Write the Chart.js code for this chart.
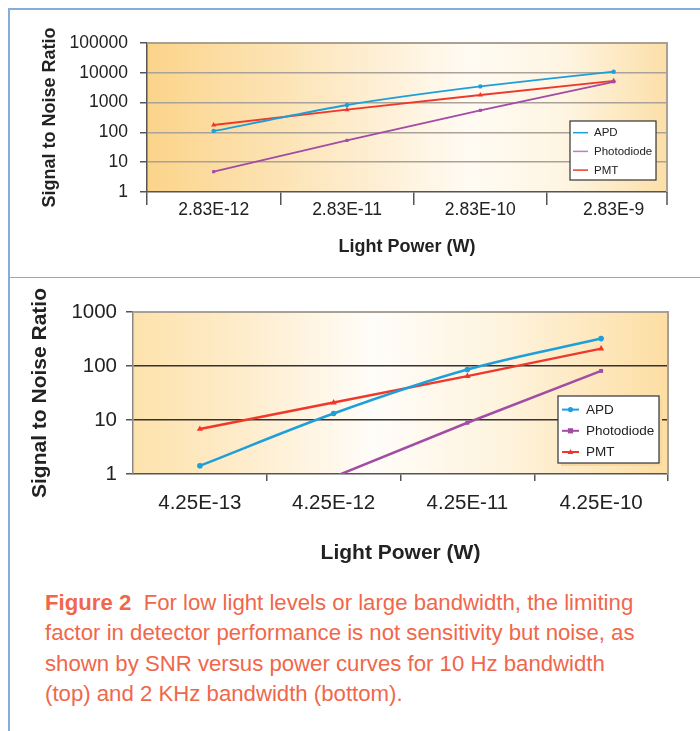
<!DOCTYPE html>
<html><head><meta charset="utf-8">
<script src="https://cdn.jsdelivr.net/npm/chart.js@4.4.0/dist/chart.umd.min.js"></script>
<style>
html,body{margin:0;padding:0;background:#fff;}
#page{position:relative;width:700px;height:731px;overflow:hidden;font-family:"Liberation Sans",Arial,sans-serif;}
.bl{position:absolute;background:#86acdd;}
canvas{position:absolute;left:0;}
#cap{position:absolute;left:45px;top:588px;font-size:22.2px;line-height:30.3px;color:#f0674b;white-space:nowrap;}
</style></head><body>
<div id="page">
<div class="bl" style="left:8px;top:8px;width:1.5px;height:723px"></div>
<div class="bl" style="left:8px;top:8px;width:692px;height:1.5px"></div>
<div class="bl" style="left:8px;top:276.5px;width:692px;height:1.5px"></div>
<canvas id="c1" width="700" height="276" style="top:0"></canvas>
<canvas id="c2" width="700" height="300" style="top:277px"></canvas>
<div id="cap"><b>Figure 2</b>&nbsp; For low light levels or large bandwidth, the limiting<br>factor in detector performance is not sensitivity but noise, as<br>shown by SNR versus power curves for 10 Hz bandwidth<br>(top) and 2 KHz bandwidth (bottom).</div>
</div>
<script>
// ---- data ----
const seriesNames = ['APD', 'Photodiode', 'PMT'];

const xLabelsTop = ['2.83E-12', '2.83E-11', '2.83E-10', '2.83E-9'];
const apdTop = [111, 830, 3500, 10900];
const photodiodeTop = [4.8, 54, 550, 5000];
const pmtTop = [177, 577, 1800, 5400];
const yTicksTop = [1, 10, 100, 1000, 10000, 100000];

const xLabelsBottom = ['4.25E-13', '4.25E-12', '4.25E-11', '4.25E-10'];
const apdBottom = [1.42, 13.2, 86, 322];
const photodiodeBottom = [0.09, 0.88, 8.9, 81];
const pmtBottom = [6.8, 21, 65, 210];
const yTicksBottom = [1, 10, 100, 1000];

// ---- styling ----
const FONT = '"Liberation Sans", Arial, sans-serif';
Chart.defaults.font.family = FONT;
Chart.defaults.color = '#222';
const COLORS = {APD: '#1f9fda', Photodiode: '#a24ca6', PMT: '#f0382a'};
const STYLES = {APD: 'circle', Photodiode: 'rect', PMT: 'triangle'};

function drawMarker(ctx, style, x, y, r, color) {
  ctx.fillStyle = color;
  ctx.beginPath();
  if (style === 'circle') { ctx.arc(x, y, r, 0, Math.PI * 2); }
  else if (style === 'rect') { ctx.rect(x - r, y - r, 2 * r, 2 * r); }
  else { ctx.moveTo(x, y - r * 1.2); ctx.lineTo(x + r * 1.1, y + r * 0.8); ctx.lineTo(x - r * 1.1, y + r * 0.8); ctx.closePath(); }
  ctx.fill();
}

function makePlugin(o) {
  return {
    id: 'deco',
    beforeDraw(chart) {
      const {ctx, chartArea: a} = chart;
      const g = ctx.createLinearGradient(a.left, 0, a.right, 0);
      o.stops.forEach(s => g.addColorStop(s[0], s[1]));
      ctx.save();
      ctx.fillStyle = g;
      ctx.fillRect(a.left, a.top, a.right - a.left, a.bottom - a.top);
      ctx.restore();
    },
    afterDraw(chart) {
      const {ctx, chartArea: a} = chart;
      ctx.save();
      ctx.strokeStyle = o.frame; ctx.lineWidth = 2;
      ctx.beginPath();
      ctx.moveTo(a.left, a.top); ctx.lineTo(a.right, a.top); ctx.lineTo(a.right, a.bottom);
      ctx.stroke();
      if (o.rightTick) {
        ctx.strokeStyle = '#555'; ctx.lineWidth = 1.5;
        ctx.beginPath(); ctx.moveTo(a.right, a.bottom); ctx.lineTo(a.right, a.bottom + o.rightTick); ctx.stroke();
      }
      const L = o.legend;
      const bx = a.right - L.dr, by = a.bottom - L.db;
      if (L.shadow) { ctx.fillStyle = L.shadow; ctx.fillRect(bx + 3, by + 3, L.w, L.h); }
      ctx.fillStyle = '#fff'; ctx.fillRect(bx, by, L.w, L.h);
      ctx.strokeStyle = '#333'; ctx.lineWidth = 1.2; ctx.strokeRect(bx, by, L.w, L.h);
      ctx.font = L.font + 'px ' + FONT;
      ctx.textBaseline = 'middle'; ctx.textAlign = 'left';
      chart.data.datasets.forEach((ds, i) => {
        const y = by + L.row0 + i * L.rowH;
        ctx.strokeStyle = L.colors ? L.colors[i] : ds.borderColor; ctx.lineWidth = L.lw;
        ctx.beginPath(); ctx.moveTo(bx + L.x0, y); ctx.lineTo(bx + L.x1, y); ctx.stroke();
        if (L.markers) drawMarker(ctx, ds.pointStyle, bx + (L.x0 + L.x1) / 2, y, L.mr, ds.borderColor);
        ctx.fillStyle = '#222';
        ctx.fillText(ds.label, bx + L.tx, y + 0.5);
      });
      ctx.restore();
    }
  };
}

function datasets(values, lw, pr, tensions) {
  return seriesNames.map((n, k) => ({
    label: n,
    data: values[k].map((y, i) => ({x: i, y})),
    borderColor: COLORS[n], backgroundColor: COLORS[n],
    borderWidth: lw, pointStyle: STYLES[n], pointRadius: n === 'PMT' ? pr + 0.8 : pr,
    pointBorderWidth: 0, tension: tensions[k]
  }));
}

function axes(o) {
  return {
    x: {
      type: 'linear', min: -0.5, max: o.xmax,
      afterBuildTicks: s => { s.ticks = o.xLabels.map((_, i) => ({value: i})); },
      afterFit: s => { s.height = o.xh; },
      ticks: {autoSkip: false, callback: v => o.xLabels[v], font: {size: o.tf}, color: '#222', padding: o.xpad, maxRotation: 0},
      grid: {offset: true, drawOnChartArea: false, drawTicks: true, tickLength: o.xtl,
             tickColor: c => (o.hideFirstXTick && c.index === 0) ? 'rgba(0,0,0,0)' : '#555', color: '#555', lineWidth: 1.5},
      border: {color: '#555', width: 1.5},
      title: {display: true, text: 'Light Power (W)', font: {size: o.titf, weight: 'bold'}, color: '#222', padding: {top: 0, bottom: o.xtitpad}}
    },
    y: {
      type: 'logarithmic', min: o.yTicks[0], max: o.yTicks[o.yTicks.length - 1],
      afterBuildTicks: s => { s.ticks = o.yTicks.map(v => ({value: v})); },
      afterFit: s => { s.width = o.yw; },
      ticks: {callback: v => String(v), font: {size: o.tf}, color: '#222', padding: o.ypad},
      grid: {color: c => (c.tick && c.tick.value === o.yTicks[0]) ? 'rgba(0,0,0,0)' : o.gridColor, lineWidth: 1.5, tickLength: 7, tickColor: '#555'},
      border: {color: o.yBorder, width: 1.5},
      title: {display: true, text: 'Signal to Noise Ratio', font: {size: o.titf, weight: 'bold'}, color: '#222', padding: {top: o.ytitpad, bottom: 0}}
    }
  };
}

new Chart(document.getElementById('c1'), {
  type: 'line',
  data: {datasets: datasets([apdTop, photodiodeTop, pmtTop], 1.8, 2.2, [0.2, 0, 0])},
  options: {
    responsive: false, animation: false, devicePixelRatio: 1,
    layout: {padding: {left: 0, top: 43, right: 33, bottom: 0}},
    plugins: {legend: {display: false}, tooltip: {enabled: false}},
    scales: axes({xLabels: xLabelsTop, xmax: 3.4, xh: 84, tf: 17.5, xpad: -5, xtl: 13, titf: 18, xtitpad: 18,
                  yTicks: yTicksTop, yw: 147, ypad: 12, gridColor: '#aaa298', yBorder: '#555', ytitpad: 39})
  },
  plugins: [makePlugin({
    stops: [[0, '#fbd48a'], [0.35, '#fde9c4'], [0.62, '#fffbf3'], [0.8, '#fef5e3'], [1, '#fcdfa8']],
    frame: '#aaa195', rightTick: 13,
    legend: {dr: 97, db: 71, w: 86, h: 59, row0: 11.7, rowH: 18.7, x0: 3, x1: 18, tx: 24, font: 11.5, lw: 1.5,
             colors: ['#1f9fda', '#c07cc4', '#f0382a'], markers: false}
  })]
});

new Chart(document.getElementById('c2'), {
  type: 'line',
  data: {datasets: datasets([apdBottom, photodiodeBottom, pmtBottom], 2.5, 2.8, [0.35, 0, 0])},
  options: {
    responsive: false, animation: false, devicePixelRatio: 1,
    layout: {padding: {left: 0, top: 35, right: 32, bottom: 0}},
    plugins: {legend: {display: false}, tooltip: {enabled: false}},
    scales: axes({xLabels: xLabelsBottom, xmax: 3.5, xh: 103, tf: 20.5, xpad: 10, xtl: 7, titf: 21, xtitpad: 11,
                  yTicks: yTicksBottom, yw: 133, ypad: 9, gridColor: '#333', yBorder: '#888', ytitpad: 28,
                  hideFirstXTick: true})
  },
  plugins: [makePlugin({
    stops: [[0, '#fde2ac'], [0.2, '#feecca'], [0.45, '#fffdf9'], [0.7, '#fef3dc'], [1, '#fddea3']],
    frame: '#a8a095', rightTick: 0,
    legend: {dr: 110, db: 78, w: 101, h: 67, row0: 13.6, rowH: 21.2, x0: 4, x1: 21, tx: 28, font: 13.5, lw: 2,
             shadow: '#f8d89c', markers: true, mr: 2.6}
  })]
});
</script>
</body></html>
